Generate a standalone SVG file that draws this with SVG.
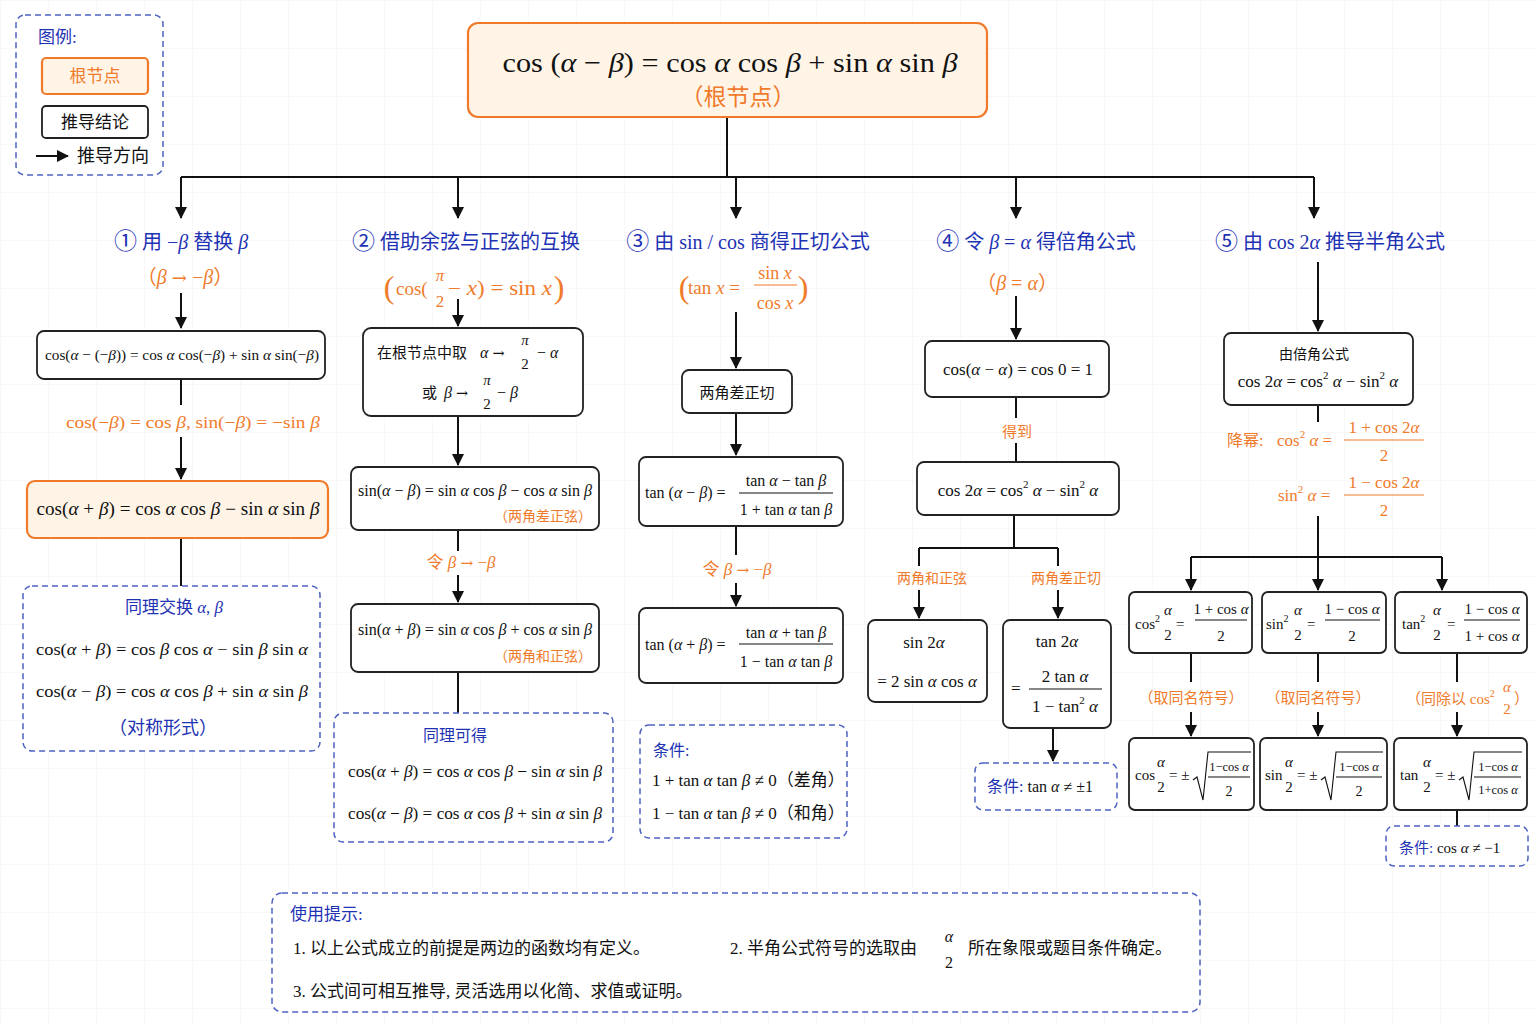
<svg xmlns="http://www.w3.org/2000/svg" width="1536" height="1024" viewBox="0 0 1536 1024">
<defs>
<style>
text{font-family:"Liberation Serif","Noto Sans CJK SC",serif;fill:#111}
.o{fill:#ef7b2b}
.b{fill:#1e32b4}
.i{font-style:italic}
.m{text-anchor:middle}
.e{text-anchor:end}
.arw{font-family:"DejaVu Serif",serif;font-size:0.9em}
.cd{font-size:23px}
.box{fill:#fff;stroke:#222;stroke-width:1.8}
.obox{fill:#fff4e6;stroke:#f07a2a;stroke-width:2.2}
.dbox{fill:#fff;stroke:#4d62c0;stroke-width:1.5;stroke-dasharray:6 4}
.ln{stroke:#111;stroke-width:2;fill:none}
.ar{stroke:#111;stroke-width:2;fill:none;marker-end:url(#ah)}
.fb{stroke:#111;stroke-width:1.1}
.fbo{stroke:#ef7b2b;stroke-width:1.1}
.rad{stroke:#111;stroke-width:1.1;fill:none}
</style>
<marker id="ah" viewBox="0 0 12 12" refX="11" refY="6" markerWidth="12" markerHeight="12" markerUnits="userSpaceOnUse" orient="auto"><path d="M0,0 L12,6 L0,12 z" fill="#111"/></marker>
<pattern id="grid" width="48" height="48" patternUnits="userSpaceOnUse"><path d="M48,0 L0,0 0,48" fill="none" stroke="#f1f1f1" stroke-width="1"/></pattern>
</defs>
<rect width="1536" height="1024" fill="#fff"/>
<rect width="1536" height="1024" fill="url(#grid)"/>

<g id="connectors">
<path class="ln" d="M727,117 V177 M181,177 H1314"/>
<path class="ar" d="M181,177 V218"/>
<path class="ar" d="M458,177 V218"/>
<path class="ar" d="M736,177 V218"/>
<path class="ar" d="M1016,177 V218"/>
<path class="ar" d="M1314,177 V218"/>
<path class="ar" d="M181,293 V328"/>
<path class="ln" d="M181,379 V405"/>
<path class="ar" d="M181,437 V479"/>
<path class="ln" d="M181,538 V586"/>
<path class="ar" d="M458,299 V326"/>
<path class="ar" d="M458,416 V465"/>
<path class="ln" d="M458,530 V551"/>
<path class="ar" d="M458,575 V602"/>
<path class="ln" d="M458,672 V713"/>
<path class="ar" d="M736,312 V368"/>
<path class="ar" d="M736,413 V455"/>
<path class="ln" d="M736,526 V555"/>
<path class="ar" d="M736,583 V606"/>
<path class="ar" d="M1016,296 V339"/>
<path class="ln" d="M1016,397 V418 M1016,443 V462"/>
<path class="ln" d="M1014,515 V548 M919,548 H1058 M919,548 V566 M1058,548 V566"/>
<path class="ar" d="M919,590 V618"/>
<path class="ar" d="M1058,590 V618"/>
<path class="ar" d="M1053,728 V761"/>
<path class="ar" d="M1318,262 V331"/>
<path class="ln" d="M1318,405 V422 M1318,516 V557 M1191,557 H1442"/>
<path class="ar" d="M1191,557 V590"/>
<path class="ar" d="M1318,557 V590"/>
<path class="ar" d="M1442,557 V590"/>
<path class="ln" d="M1191,653 V682 M1318,653 V682 M1457,653 V682"/>
<path class="ar" d="M1191,712 V736"/>
<path class="ar" d="M1318,712 V736"/>
<path class="ar" d="M1457,712 V736"/>
<path class="ln" d="M1457,810 V826"/>
</g>

<g id="legend">
<rect x="16" y="15" width="147" height="160" rx="9" class="dbox"/>
<text x="38" y="43" font-size="17" class="b">图例:</text>
<rect x="42" y="58" width="106" height="36" rx="4" class="obox"/>
<text x="95" y="82" font-size="17" class="o m">根节点</text>
<rect x="42" y="106" width="106" height="32" rx="4" class="box"/>
<text x="95" y="128" font-size="17" class="m">推导结论</text>
<path class="ar" d="M36,156 H68"/>
<text x="77" y="162" font-size="18">推导方向</text>
</g>

<g id="root">
<rect x="468" y="23" width="519" height="94" rx="10" class="obox"/>
<text x="730" y="72" font-size="28" class="m" textLength="455" lengthAdjust="spacingAndGlyphs">cos (<tspan class="i">α</tspan> − <tspan class="i">β</tspan>) = cos <tspan class="i">α</tspan> cos <tspan class="i">β</tspan> + sin <tspan class="i">α</tspan> sin <tspan class="i">β</tspan></text>
<text x="738" y="105" font-size="23" class="o m">（根节点）</text>
</g>

<g id="col1">
<text x="181" y="249" font-size="20" class="b m"><tspan class="cd">①</tspan> 用 −<tspan class="i">β</tspan> 替换 <tspan class="i">β</tspan></text>
<text x="185" y="284" font-size="20" class="o m">（<tspan class="i">β</tspan> <tspan class="arw">→</tspan> −<tspan class="i">β</tspan>）</text>
</g>
<g id="n1a">
<rect x="37" y="331" width="288" height="48" rx="7" class="box"/>
<text x="182" y="360" font-size="15.5" class="m" textLength="274" lengthAdjust="spacingAndGlyphs">cos(<tspan class="i">α</tspan> − (−<tspan class="i">β</tspan>)) = cos <tspan class="i">α</tspan> cos(−<tspan class="i">β</tspan>) + sin <tspan class="i">α</tspan> sin(−<tspan class="i">β</tspan>)</text>
</g>
<text x="193" y="428" font-size="16.5" class="o m" textLength="254" lengthAdjust="spacingAndGlyphs">cos(−<tspan class="i">β</tspan>) = cos <tspan class="i">β</tspan>,  sin(−<tspan class="i">β</tspan>) = −sin <tspan class="i">β</tspan></text>
<g id="n1b">
<rect x="27" y="481" width="301" height="57" rx="8" class="obox"/>
<text x="178" y="515" font-size="18" class="m" textLength="283" lengthAdjust="spacingAndGlyphs">cos(<tspan class="i">α</tspan> + <tspan class="i">β</tspan>) = cos <tspan class="i">α</tspan> cos <tspan class="i">β</tspan> − sin <tspan class="i">α</tspan> sin <tspan class="i">β</tspan></text>
</g>
<g id="n1c">
<rect x="23" y="586" width="297" height="165" rx="9" class="dbox"/>
<text x="174" y="613" font-size="17" class="b m">同理交换 <tspan class="i">α</tspan>, <tspan class="i">β</tspan></text>
<text x="172" y="655" font-size="17.5" class="m" textLength="272" lengthAdjust="spacingAndGlyphs">cos(<tspan class="i">α</tspan> + <tspan class="i">β</tspan>) = cos <tspan class="i">β</tspan> cos <tspan class="i">α</tspan> − sin <tspan class="i">β</tspan> sin <tspan class="i">α</tspan></text>
<text x="172" y="697" font-size="17.5" class="m" textLength="272" lengthAdjust="spacingAndGlyphs">cos(<tspan class="i">α</tspan> − <tspan class="i">β</tspan>) = cos <tspan class="i">α</tspan> cos <tspan class="i">β</tspan> + sin <tspan class="i">α</tspan> sin <tspan class="i">β</tspan></text>
<text x="163" y="734" font-size="18" class="b m">（对称形式）</text>
</g>

<g id="col2">
<text x="466" y="249" font-size="20" class="b m"><tspan class="cd">②</tspan> 借助余弦与正弦的互换</text>
<text x="389" y="298" font-size="32" class="o m">(</text>
<text x="396" y="295" font-size="19" class="o">cos(</text>
<text x="440" y="281" font-size="17" class="o m i">π</text>
<text x="440" y="307" font-size="17" class="o m">2</text>
<text x="448" y="295" font-size="20" class="o" textLength="104" lengthAdjust="spacingAndGlyphs">− <tspan class="i">x</tspan>) = sin <tspan class="i">x</tspan></text>
<text x="559" y="298" font-size="32" class="o m">)</text>
</g>
<g id="n2a">
<rect x="363" y="328" width="220" height="88" rx="8" class="box"/>
<text x="377" y="358" font-size="15">在根节点中取</text>
<text x="480" y="358" font-size="16"><tspan class="i">α</tspan> <tspan class="arw">→</tspan></text>
<text x="525" y="345" font-size="15" class="m i">π</text>
<text x="525" y="369" font-size="15" class="m">2</text>
<text x="537" y="358" font-size="16">− <tspan class="i">α</tspan></text>
<text x="422" y="398" font-size="15">或</text>
<text x="444" y="398" font-size="16"><tspan class="i">β</tspan> <tspan class="arw">→</tspan></text>
<text x="487" y="385" font-size="15" class="m i">π</text>
<text x="487" y="409" font-size="15" class="m">2</text>
<text x="497" y="398" font-size="16">− <tspan class="i">β</tspan></text>
</g>
<g id="n2b">
<rect x="351" y="467" width="248" height="63" rx="7" class="box"/>
<text x="475" y="496" font-size="16" class="m" textLength="234" lengthAdjust="spacingAndGlyphs">sin(<tspan class="i">α</tspan> − <tspan class="i">β</tspan>) = sin <tspan class="i">α</tspan> cos <tspan class="i">β</tspan> − cos <tspan class="i">α</tspan> sin <tspan class="i">β</tspan></text>
<text x="592" y="521" font-size="14" class="o e">（两角差正弦）</text>
</g>
<text x="461" y="568" font-size="17" class="o m">令 <tspan class="i">β</tspan> <tspan class="arw">→</tspan> −<tspan class="i">β</tspan></text>
<g id="n2c">
<rect x="351" y="604" width="248" height="68" rx="7" class="box"/>
<text x="475" y="635" font-size="16" class="m" textLength="234" lengthAdjust="spacingAndGlyphs">sin(<tspan class="i">α</tspan> + <tspan class="i">β</tspan>) = sin <tspan class="i">α</tspan> cos <tspan class="i">β</tspan> + cos <tspan class="i">α</tspan> sin <tspan class="i">β</tspan></text>
<text x="592" y="661" font-size="14" class="o e">（两角和正弦）</text>
</g>
<g id="n2d">
<rect x="334" y="713" width="279" height="129" rx="9" class="dbox"/>
<text x="455" y="741" font-size="16" class="b m">同理可得</text>
<text x="475" y="777" font-size="16.5" class="m" textLength="254" lengthAdjust="spacingAndGlyphs">cos(<tspan class="i">α</tspan> + <tspan class="i">β</tspan>) = cos <tspan class="i">α</tspan> cos <tspan class="i">β</tspan> − sin <tspan class="i">α</tspan> sin <tspan class="i">β</tspan></text>
<text x="475" y="819" font-size="16.5" class="m" textLength="254" lengthAdjust="spacingAndGlyphs">cos(<tspan class="i">α</tspan> − <tspan class="i">β</tspan>) = cos <tspan class="i">α</tspan> cos <tspan class="i">β</tspan> + sin <tspan class="i">α</tspan> sin <tspan class="i">β</tspan></text>
</g>

<g id="col3">
<text x="748" y="249" font-size="20" class="b m"><tspan class="cd">③</tspan> 由 sin / cos 商得正切公式</text>
<text x="684" y="298" font-size="32" class="o m">(</text>
<text x="688" y="294" font-size="19" class="o">tan <tspan class="i">x</tspan> =</text>
<text x="775" y="279" font-size="18" class="o m">sin <tspan class="i">x</tspan></text>
<line x1="754" y1="285" x2="797" y2="285" class="fbo"/>
<text x="775" y="309" font-size="18" class="o m">cos <tspan class="i">x</tspan></text>
<text x="803" y="298" font-size="32" class="o m">)</text>
</g>
<g id="n3a">
<rect x="682" y="370" width="110" height="43" rx="7" class="box"/>
<text x="737" y="398" font-size="15" class="m">两角差正切</text>
</g>
<g id="n3b">
<rect x="639" y="457" width="204" height="69" rx="7" class="box"/>
<text x="645" y="498" font-size="16">tan (<tspan class="i">α</tspan> − <tspan class="i">β</tspan>) =</text>
<text x="786" y="486" font-size="16" class="m">tan <tspan class="i">α</tspan> − tan <tspan class="i">β</tspan></text>
<line x1="739" y1="493" x2="833" y2="493" class="fb"/>
<text x="786" y="515" font-size="16" class="m">1 + tan <tspan class="i">α</tspan> tan <tspan class="i">β</tspan></text>
</g>
<text x="737" y="575" font-size="17" class="o m">令 <tspan class="i">β</tspan> <tspan class="arw">→</tspan> −<tspan class="i">β</tspan></text>
<g id="n3c">
<rect x="639" y="608" width="204" height="75" rx="7" class="box"/>
<text x="645" y="650" font-size="16">tan (<tspan class="i">α</tspan> + <tspan class="i">β</tspan>) =</text>
<text x="786" y="638" font-size="16" class="m">tan <tspan class="i">α</tspan> + tan <tspan class="i">β</tspan></text>
<line x1="739" y1="644" x2="833" y2="644" class="fb"/>
<text x="786" y="667" font-size="16" class="m">1 − tan <tspan class="i">α</tspan> tan <tspan class="i">β</tspan></text>
</g>
<g id="n3d">
<rect x="640" y="725" width="207" height="113" rx="9" class="dbox"/>
<text x="653" y="756" font-size="16" class="b">条件:</text>
<text x="652" y="786" font-size="17">1 + tan <tspan class="i">α</tspan> tan <tspan class="i">β</tspan> ≠ 0（差角）</text>
<text x="652" y="819" font-size="17">1 − tan <tspan class="i">α</tspan> tan <tspan class="i">β</tspan> ≠ 0（和角）</text>
</g>

<g id="col4">
<text x="1036" y="249" font-size="20" class="b m"><tspan class="cd">④</tspan> 令 <tspan class="i">β</tspan> = <tspan class="i">α</tspan> 得倍角公式</text>
<text x="1017" y="290" font-size="20" class="o m">（<tspan class="i">β</tspan> = <tspan class="i">α</tspan>）</text>
</g>
<g id="n4a">
<rect x="925" y="341" width="184" height="56" rx="7" class="box"/>
<text x="1018" y="375" font-size="17" class="m">cos(<tspan class="i">α</tspan> − <tspan class="i">α</tspan>) = cos 0 = 1</text>
</g>
<text x="1017" y="437" font-size="15" class="o m">得到</text>
<g id="n4b">
<rect x="917" y="462" width="202" height="53" rx="7" class="box"/>
<text x="1018" y="496" font-size="17" class="m">cos 2<tspan class="i">α</tspan> = cos<tspan font-size="11" dy="-8">2</tspan><tspan dy="8" class="i"> α</tspan> − sin<tspan font-size="11" dy="-8">2</tspan><tspan dy="8" class="i"> α</tspan></text>
</g>
<text x="932" y="583" font-size="14" class="o m">两角和正弦</text>
<text x="1066" y="583" font-size="14" class="o m">两角差正切</text>
<g id="n4c">
<rect x="868" y="620" width="119" height="82" rx="7" class="box"/>
<text x="924" y="648" font-size="17" class="m">sin 2<tspan class="i">α</tspan></text>
<text x="927" y="687" font-size="17" class="m">= 2 sin <tspan class="i">α</tspan> cos <tspan class="i">α</tspan></text>
</g>
<g id="n4d">
<rect x="1003" y="620" width="108" height="108" rx="7" class="box"/>
<text x="1057" y="647" font-size="17" class="m">tan 2<tspan class="i">α</tspan></text>
<text x="1011" y="694" font-size="17">=</text>
<text x="1065" y="682" font-size="17" class="m">2 tan <tspan class="i">α</tspan></text>
<line x1="1029" y1="689" x2="1102" y2="689" class="fb"/>
<text x="1065" y="712" font-size="17" class="m">1 − tan<tspan font-size="11" dy="-8">2</tspan><tspan dy="8" class="i"> α</tspan></text>
</g>
<g id="n4e">
<rect x="975" y="763" width="142" height="47" rx="8" class="dbox"/>
<text x="987" y="792" font-size="16"><tspan class="b">条件:</tspan> tan <tspan class="i">α</tspan> ≠ ±1</text>
</g>

<g id="col5">
<text x="1330" y="249" font-size="20" class="b m"><tspan class="cd">⑤</tspan> 由 cos 2<tspan class="i">α</tspan> 推导半角公式</text>
</g>
<g id="n5a">
<rect x="1224" y="333" width="189" height="72" rx="7" class="box"/>
<text x="1314" y="359" font-size="14" class="m">由倍角公式</text>
<text x="1318" y="387" font-size="17" class="m">cos 2<tspan class="i">α</tspan> = cos<tspan font-size="11" dy="-8">2</tspan><tspan dy="8" class="i"> α</tspan> − sin<tspan font-size="11" dy="-8">2</tspan><tspan dy="8" class="i"> α</tspan></text>
</g>
<g id="lower-power">
<text x="1227" y="446" font-size="16" class="o">降幂:</text>
<text x="1277" y="446" font-size="17" class="o">cos<tspan font-size="11" dy="-8">2</tspan><tspan dy="8" class="i"> α</tspan> =</text>
<text x="1384" y="433" font-size="17" class="o m">1 + cos 2<tspan class="i">α</tspan></text>
<line x1="1344" y1="440" x2="1424" y2="440" class="fbo"/>
<text x="1384" y="461" font-size="17" class="o m">2</text>
<text x="1278" y="501" font-size="17" class="o">sin<tspan font-size="11" dy="-8">2</tspan><tspan dy="8" class="i"> α</tspan> =</text>
<text x="1384" y="488" font-size="17" class="o m">1 − cos 2<tspan class="i">α</tspan></text>
<line x1="1344" y1="495" x2="1424" y2="495" class="fbo"/>
<text x="1384" y="516" font-size="17" class="o m">2</text>
</g>
<g id="n5b">
<rect x="1129" y="592" width="123" height="61" rx="6" class="box"/>
<text x="1135" y="629" font-size="15">cos<tspan font-size="10" dy="-7">2</tspan></text>
<text x="1168" y="615" font-size="15" class="m i">α</text>
<text x="1168" y="640" font-size="15" class="m">2</text>
<text x="1176" y="629" font-size="15">=</text>
<text x="1221" y="614" font-size="15" class="m">1 + cos <tspan class="i">α</tspan></text>
<line x1="1195" y1="620" x2="1247" y2="620" class="fb"/>
<text x="1221" y="641" font-size="15" class="m">2</text>
</g>
<g id="n5c">
<rect x="1262" y="592" width="124" height="61" rx="6" class="box"/>
<text x="1266" y="629" font-size="15">sin<tspan font-size="10" dy="-7">2</tspan></text>
<text x="1298" y="615" font-size="15" class="m i">α</text>
<text x="1298" y="640" font-size="15" class="m">2</text>
<text x="1307" y="629" font-size="15">=</text>
<text x="1352" y="614" font-size="15" class="m">1 − cos <tspan class="i">α</tspan></text>
<line x1="1325" y1="620" x2="1380" y2="620" class="fb"/>
<text x="1352" y="641" font-size="15" class="m">2</text>
</g>
<g id="n5d">
<rect x="1395" y="592" width="132" height="61" rx="6" class="box"/>
<text x="1402" y="629" font-size="15">tan<tspan font-size="10" dy="-7">2</tspan></text>
<text x="1437" y="615" font-size="15" class="m i">α</text>
<text x="1437" y="640" font-size="15" class="m">2</text>
<text x="1447" y="629" font-size="15">=</text>
<text x="1492" y="614" font-size="15" class="m">1 − cos <tspan class="i">α</tspan></text>
<line x1="1464" y1="620" x2="1520" y2="620" class="fb"/>
<text x="1492" y="641" font-size="15" class="m">1 + cos <tspan class="i">α</tspan></text>
</g>
<text x="1191" y="703" font-size="15" class="o m">（取同名符号）</text>
<text x="1318" y="703" font-size="15" class="o m">（取同名符号）</text>
<text x="1406" y="704" font-size="15" class="o">（同除以 cos<tspan font-size="10" dy="-7">2</tspan></text>
<text x="1507" y="692" font-size="15" class="o m i">α</text>
<text x="1507" y="714" font-size="15" class="o m">2</text>
<text x="1514" y="704" font-size="15" class="o">）</text>
<g id="n5e">
<rect x="1129" y="738" width="125" height="72" rx="6" class="box"/>
<text x="1135" y="780" font-size="15">cos</text>
<text x="1161" y="767" font-size="15" class="m i">α</text>
<text x="1161" y="792" font-size="15" class="m">2</text>
<text x="1169" y="780" font-size="15">= ±</text>
<path class="rad" d="M1193,780 L1197,777 L1203,800 L1208,752 L1251,752"/>
<text x="1229" y="771" font-size="12.5" class="m">1−cos <tspan class="i">α</tspan></text>
<line x1="1208" y1="777" x2="1250" y2="777" class="fb"/>
<text x="1229" y="796" font-size="14" class="m">2</text>
</g>
<g id="n5f">
<rect x="1260" y="738" width="127" height="72" rx="6" class="box"/>
<text x="1265" y="780" font-size="15">sin</text>
<text x="1289" y="767" font-size="15" class="m i">α</text>
<text x="1289" y="792" font-size="15" class="m">2</text>
<text x="1297" y="780" font-size="15">= ±</text>
<path class="rad" d="M1321,780 L1325,777 L1331,800 L1336,752 L1383,752"/>
<text x="1359" y="771" font-size="12.5" class="m">1−cos <tspan class="i">α</tspan></text>
<line x1="1336" y1="777" x2="1382" y2="777" class="fb"/>
<text x="1359" y="796" font-size="14" class="m">2</text>
</g>
<g id="n5g">
<rect x="1394" y="738" width="133" height="72" rx="6" class="box"/>
<text x="1400" y="780" font-size="15">tan</text>
<text x="1427" y="767" font-size="15" class="m i">α</text>
<text x="1427" y="792" font-size="15" class="m">2</text>
<text x="1435" y="780" font-size="15">= ±</text>
<path class="rad" d="M1459,780 L1463,777 L1469,800 L1474,752 L1522,752"/>
<text x="1498" y="771" font-size="12.5" class="m">1−cos <tspan class="i">α</tspan></text>
<line x1="1474" y1="777" x2="1521" y2="777" class="fb"/>
<text x="1498" y="794" font-size="12.5" class="m">1+cos <tspan class="i">α</tspan></text>
</g>
<g id="n5h">
<rect x="1386" y="826" width="142" height="40" rx="8" class="dbox"/>
<text x="1399" y="853" font-size="15"><tspan class="b">条件:</tspan> cos <tspan class="i">α</tspan> ≠ −1</text>
</g>

<g id="tips">
<rect x="272" y="893" width="928" height="119" rx="10" class="dbox"/>
<text x="290" y="920" font-size="17" class="b">使用提示:</text>
<text x="293" y="954" font-size="17">1. 以上公式成立的前提是两边的函数均有定义。</text>
<text x="730" y="954" font-size="17">2. 半角公式符号的选取由</text>
<text x="949" y="942" font-size="16" class="m i">α</text>
<text x="949" y="968" font-size="16" class="m">2</text>
<text x="968" y="954" font-size="17">所在象限或题目条件确定。</text>
<text x="293" y="997" font-size="17">3. 公式间可相互推导, 灵活选用以化简、求值或证明。</text>
</g>
</svg>
